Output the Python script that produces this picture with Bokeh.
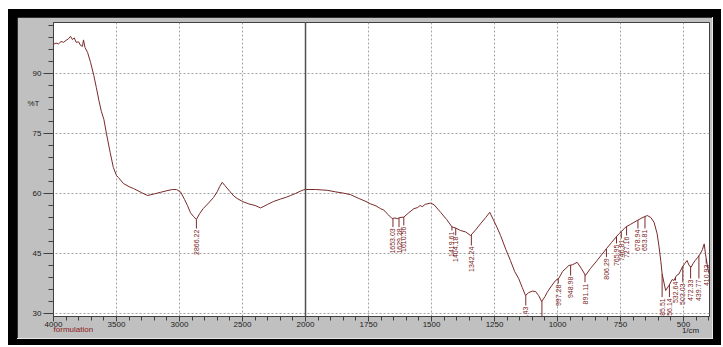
import numpy as np
from bokeh.plotting import figure
from bokeh.models import Range1d, FixedTicker, Span, LinearAxis, Spacer
from bokeh.layouts import column, row
from bokeh.embed import file_html
from bokeh.resources import INLINE
from bokeh.core.properties import value

# ---------------- data ----------------
wavenumber = [4000, 3980, 3960, 3940, 3920, 3900, 3880, 3865, 3850, 3835, 3820, 3800, 3785, 3770,
              3762, 3750, 3730, 3706, 3680, 3660, 3640, 3620, 3600, 3580, 3550, 3525, 3500, 3485,
              3445, 3400, 3365, 3300, 3254, 3200, 3150, 3100, 3056, 3024, 2992, 2960, 2937, 2913,
              2890, 2866, 2840, 2810, 2770, 2730, 2700, 2680, 2661, 2640, 2600, 2570, 2542, 2500,
              2450, 2400, 2357, 2330, 2300, 2254, 2200, 2150, 2119, 2080, 2040, 2016, 2000,
              1960, 1914, 1880, 1850, 1821, 1790, 1760, 1742, 1720, 1702, 1690, 1680, 1670, 1656,
              1645, 1636, 1625, 1610, 1590, 1570, 1555, 1545, 1537, 1525, 1504, 1490, 1464, 1440,
              1418, 1405, 1385, 1365, 1345, 1325, 1306, 1285, 1269, 1255, 1240, 1226, 1205, 1187,
              1170, 1154, 1140, 1127, 1115, 1100, 1087, 1075, 1063, 1050, 1041, 1025, 1008, 995,
              980, 955, 940, 922, 905, 889, 870, 843, 825, 806, 785, 757, 745, 730, 710, 684, 665,
              644, 630, 617, 605, 597, 590, 585, 571, 558, 545, 538, 528, 518, 505, 495, 486, 478,
              470, 462, 454, 444, 434, 425, 418, 413, 410, 401, 397]
transmittance = [97.3, 97.6, 97.4, 98.0, 97.8, 98.3, 98.7, 99.3, 98.5, 98.9, 97.8, 97.9, 97.0, 96.8,
                 98.4, 96.5, 95.3, 92.8, 89.5, 86.5, 83.3, 80.5, 78.5, 75.0, 70.2, 66.5, 64.5, 64.0,
                 62.5, 61.7, 61.25, 60.2, 59.5, 59.9, 60.3, 60.7, 61.0, 61.0, 60.4, 58.5, 57.0, 55.2,
                 54.3, 53.5, 55.0, 56.3, 57.6, 59.0, 60.5, 61.8, 62.8, 62.0, 60.5, 59.4, 58.75, 58.0,
                 57.4, 57.0, 56.4, 56.8, 57.3, 58.0, 58.6, 59.1, 59.5, 60.0, 60.6, 60.9, 61.0,
                 61.0, 60.8, 60.4, 60.1, 59.7, 58.8, 58.0, 57.4, 56.9, 56.2, 55.9, 55.2, 54.6, 53.7,
                 53.9, 53.7, 54.0, 54.1, 55.2, 56.2, 56.5, 57.0, 56.7, 57.3, 57.6, 57.2, 55.3, 53.5,
                 51.6, 51.4, 50.75, 50.4, 49.5, 50.9, 52.4, 54.0, 55.3, 53.5, 51.5, 49.5, 46.0, 43.25,
                 40.5, 38.7, 36.5, 34.5, 35.2, 35.6, 35.5, 34.5, 33.0, 34.2, 35.3, 36.8, 38.25, 38.8,
                 40.5, 42.0, 42.2, 42.8, 41.2, 39.5, 41.2, 43.25, 44.7, 46.2, 47.8, 49.9, 50.6, 51.6,
                 52.3, 53.25, 53.9, 54.5, 54.0, 52.8, 50.0, 46.6, 43.0, 39.9, 35.75, 37.0, 38.5,
                 38.25, 39.5, 39.9, 41.6, 42.5, 43.25, 42.0, 41.6, 42.5, 43.25, 44.0, 44.9, 46.0,
                 47.4, 45.0, 43.7, 40.3, 40.0]

peak_wn = [2866, 1653, 1629, 1610, 1419, 1404, 1342, 1126, 1062, 997, 948, 891, 806, 766, 747,
           726, 681, 653, 585, 556, 532, 503, 472, 439, 410]
peak_text = ["2866.22", "1653.03", "1629.28", "1610.56", "1419.61", "1404.18", "1342.24",
             "1126.43", "1062.78", "997.28", "948.98", "891.11", "806.29", "765.95", "746.81",
             "727.16", "678.94", "653.81", "585.51", "556.14", "532.64", "503.03", "472.33",
             "439.77", "410.93"]
peak_label_top = [51.25, 51.6, 51.6, 52.0, 50.75, 49.5, 47.0, 32.0, 29.3, 37.5, 39.5, 37.8, 44.1,
                  47.5, 48.75, 49.5, 51.25, 51.25, 34.1, 34.1, 38.25, 37.8, 38.75, 38.75, 42.5]

x_major = [4000, 3500, 3000, 2500, 2000, 1750, 1500, 1250, 1000, 750, 500]
y_major = [30, 45, 60, 75, 90]
y_minor_step = 3
BREAK = 2000          # scale changes here: above it 500 cm-1 per division, below 250
y_title = "%T"
x_unit = "1/cm"
sample_name = "formulation"


def to_axis(wn):
    wn = np.asarray(wn, dtype=float)
    return np.where(wn > BREAK, BREAK + (wn - BREAK) / 2.0, wn)


TRACE = "#7a2a2a"
LABEL_RED = "#7a1c1c"
GREY = "#c0c0c0"
INK = "#202020"
FONT = value("Liberation Sans")

p = figure(width=695, height=321, output_backend="svg", toolbar_location=None,
           x_range=Range1d(float(to_axis(4000)), 397), y_range=Range1d(29.25, 102.75),
           min_border_left=36, min_border_right=3, min_border_top=5, min_border_bottom=22,
           background_fill_color="white", border_fill_color=GREY,
           outline_line_color="#404040", outline_line_width=1)

xu = [int(v) for v in to_axis(x_major)]
minor_x = list(range(400, int(to_axis(4000)) + 1, 50))
p.xaxis.ticker = FixedTicker(ticks=xu, minor_ticks=minor_x)
p.xaxis.major_label_overrides = {u: str(w) for u, w in zip(xu, x_major)}
p.yaxis.ticker = FixedTicker(ticks=y_major,
                             minor_ticks=list(range(y_major[0], 103, y_minor_step)))

for ax in (p.xaxis[0], p.yaxis[0]):
    ax.axis_line_color = "#404040"
    ax.major_tick_line_color = "#404040"
    ax.minor_tick_line_color = "#404040"
    ax.major_tick_in = 0
    ax.minor_tick_in = 0
    ax.major_label_text_font_size = "8px"
    ax.major_label_text_color = INK
    ax.major_label_text_font = "Liberation Sans"

p.yaxis.major_tick_out = 10
p.yaxis.minor_tick_out = 5
p.yaxis.major_label_standoff = 2
p.xaxis.major_tick_out = 5
p.xaxis.minor_tick_out = 4
p.xaxis.major_label_standoff = 0


def text_axis(pos, label, color, standoff, side):
    ax = LinearAxis(ticker=FixedTicker(ticks=[pos], minor_ticks=[]),
                    major_label_overrides={pos: label},
                    axis_line_color=None, major_tick_line_color=None,
                    minor_tick_line_color=None, major_tick_out=0, major_tick_in=0,
                    major_label_standoff=standoff, major_label_text_font_size="8px",
                    major_label_text_color=color, major_label_text_font="Liberation Sans")
    p.add_layout(ax, side)
    return ax


# extra label-only axes for the picture's loose texts
text_axis(2921, sample_name, "#8b1a1a", -5, "below")
text_axis(472, x_unit, INK, -11, "below")
text_axis(82.5, y_title, INK, -10, "left")

for g in (p.xgrid[0], p.ygrid[0]):
    g.grid_line_color = "#a0a0a0"
    g.grid_line_dash = "2 2"
    g.grid_line_width = 1

p.add_layout(Span(location=BREAK, dimension="height", line_color="#505050", line_width=1.5))

p.line(to_axis(wavenumber), transmittance, line_color=TRACE, line_width=1)

wn_inc = np.asarray(wavenumber[::-1], dtype=float)
t_inc = np.asarray(transmittance[::-1], dtype=float)
peak_t = np.interp(peak_wn, wn_inc, t_inc)
p.segment(x0=to_axis(peak_wn), y0=peak_t, x1=to_axis(peak_wn), y1=peak_label_top,
          line_color=TRACE, line_width=1)
p.text(x=to_axis(peak_wn), y=np.asarray(peak_label_top) - 0.3, text=peak_text,
       angle=np.pi / 2, text_align="right", text_baseline="middle",
       text_font_size="7px", text_color=LABEL_RED, text_font=FONT)

# black window frame with a light bevel on the right and bottom of the grey panel
BEVEL = {"background-color": "#e6e6e6"}
inner = row(Spacer(width=9, height=321), p,
            Spacer(width=1, height=321, styles=BEVEL), Spacer(width=8, height=321))
bevel_row = row(Spacer(width=9, height=1), Spacer(width=696, height=1, styles=BEVEL),
                Spacer(width=8, height=1))
layout = column(Spacer(width=713, height=8), inner, bevel_row, Spacer(width=713, height=6),
                styles={"background-color": "black", "margin-top": "9px",
                        "margin-left": "8px"})

open("out.html", "w").write(file_html(layout, INLINE))
